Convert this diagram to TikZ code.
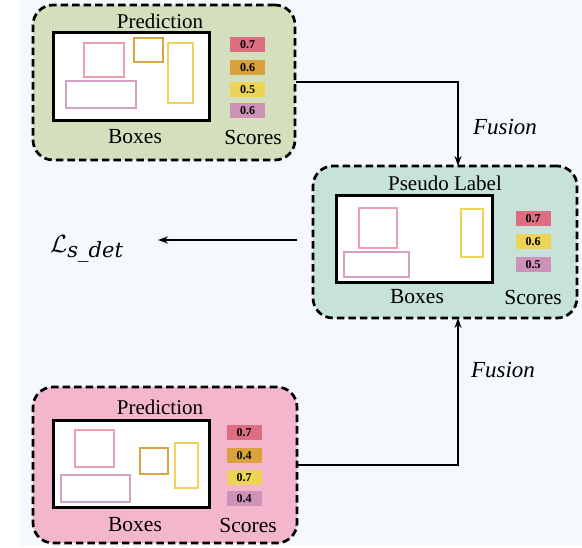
\documentclass[tikz,border=0pt]{standalone}
\usepackage{fontspec}
\setmainfont{Liberation Serif}
\newfontfamily\subfont{DejaVu Serif}
\usetikzlibrary{arrows.meta}
\definecolor{bgblue}{HTML}{F5F9FE}
\definecolor{gfill}{HTML}{D4DFBE}
\definecolor{tfill}{HTML}{C6E2D9}
\definecolor{pfill}{HTML}{F4B6CC}
\definecolor{sred}{HTML}{DD6E82}
\definecolor{sorange}{HTML}{D9A23C}
\definecolor{syellow}{HTML}{EDD455}
\definecolor{smauve}{HTML}{CE92B8}
\definecolor{bpink}{HTML}{EFA0AF}
\definecolor{borange}{HTML}{D9A445}
\definecolor{byellow}{HTML}{F0D45A}
\definecolor{bmauve}{HTML}{D59FC2}
\tikzset{
  panel/.style={draw=black, line width=2.7pt, dash pattern=on 7.5pt off 4pt, rounded corners=20pt, inner sep=0pt},
  canvas/.style={draw=black, line width=3pt, fill=white},
  det/.style={line width=2.6pt},
  score/.style={inner sep=0pt, minimum width=35pt, minimum height=15pt, font=\fontsize{12}{12}\selectfont\bfseries},
  title/.style={font=\fontsize{21}{21}\selectfont},
  lab/.style={font=\fontsize{21.5}{21.5}\selectfont},
  fus/.style={font=\fontsize{23}{23}\selectfont\itshape},
  conn/.style={line width=2pt, -{Stealth[length=10pt,width=7pt]}},
}
\begin{document}
\begin{tikzpicture}[x=1pt,y=-1pt]
\useasboundingbox (0,0) rectangle (582,548);
\fill[white] (0,0) rectangle (582,548);
\fill[bgblue] (20,0) rectangle (582,546);

% ---------- top prediction panel ----------
\node[panel, fill=gfill, minimum width=262pt, minimum height=155pt] (top) at (164,82.5) {};
\node[title] (toptitle) at (160,21) {Prediction};
\draw[canvas] (53,33) rectangle (209,121);
\draw[det, draw=bpink] (84,43) rectangle (124,77);
\draw[det, draw=borange] (134,38) rectangle (163,62);
\draw[det, draw=byellow] (168,43) rectangle (193,103);
\draw[det, draw=bmauve] (66,81) rectangle (136,108);
\node[score, fill=sred] (ts1) at (247.5,44.5) {0.7};
\node[score, fill=sorange] (ts2) at (247.5,67.5) {0.6};
\node[score, fill=syellow] (ts3) at (247.5,89.5) {0.5};
\node[score, fill=smauve] (ts4) at (247.5,110.5) {0.6};
\node[lab] (topboxes) at (135,137) {Boxes};
\node[lab] (topscores) at (253,137) {Scores};

% ---------- pseudo label panel ----------
\node[panel, fill=tfill, minimum width=264pt, minimum height=152pt] (pseudo) at (445,242) {};
\node[title] (ptitle) at (445,183) {Pseudo Label};
\draw[canvas] (336,196) rectangle (492,283);
\draw[det, draw=bpink] (359,208) rectangle (397,248);
\draw[det, draw=byellow] (461,209) rectangle (483,257);
\draw[det, draw=bmauve] (344,252) rectangle (409,277);
\node[score, fill=sred] (ps1) at (533,218.5) {0.7};
\node[score, fill=syellow] (ps2) at (533,241.5) {0.6};
\node[score, fill=smauve] (ps3) at (533,265) {0.5};
\node[lab] (pboxes) at (417,297) {Boxes};
\node[lab] (pscores) at (533,297) {Scores};

% ---------- bottom prediction panel ----------
\node[panel, fill=pfill, minimum width=264pt, minimum height=156pt] (bot) at (165,465) {};
\node[title] (bottitle) at (160,407) {Prediction};
\draw[canvas] (53,421) rectangle (209,508);
\draw[det, draw=bpink] (75,430) rectangle (114,467);
\draw[det, draw=borange] (140,448) rectangle (168,474);
\draw[det, draw=byellow] (175,443) rectangle (198,488);
\draw[det, draw=bmauve] (61,475) rectangle (130,502);
\node[score, fill=sred] (bs1) at (244,432.5) {0.7};
\node[score, fill=sorange] (bs2) at (244,455.5) {0.4};
\node[score, fill=syellow] (bs3) at (244,477.5) {0.7};
\node[score, fill=smauve] (bs4) at (244,498.5) {0.4};
\node[lab] (botboxes) at (135,525) {Boxes};
\node[lab] (botscores) at (248,525) {Scores};

% ---------- connectors ----------
\coordinate (pin1) at (458,166);
\coordinate (pin2) at (458,318);
\coordinate (lstart) at (297,240);
\node[inner sep=0pt, anchor=base west] (loss) at (50,253)
  {\fontsize{32}{32}\selectfont$\mathcal{L}$\raisebox{-5pt}{\fontsize{21}{21}\selectfont\subfont\itshape s\_det}};
\coordinate (lend) at (158,240);

\draw[conn] (top.east) -| (pin1);
\draw[conn] (bot.east) -| (pin2);
\draw[conn] (lstart) -- (lend);

\node[fus] (fus1) at (505,127) {Fusion};
\node[fus] (fus2) at (503,370) {Fusion};
\end{tikzpicture}
\end{document}
